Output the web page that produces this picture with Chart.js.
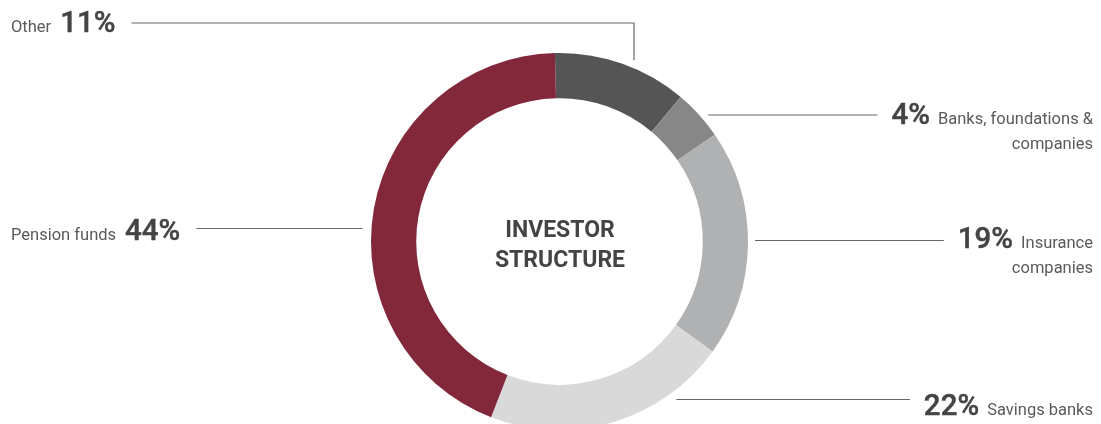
<!DOCTYPE html>
<html>
<head>
<meta charset="utf-8">
<script src="https://cdn.jsdelivr.net/npm/chart.js@4/dist/chart.umd.min.js"></script>
<style>
    html, body { margin: 0; padding: 0; background: #ffffff; overflow: hidden; }
    #wrap { position: relative; width: 1101px; height: 440px; }
</style>
</head>
<body>
<div id="wrap"><canvas id="investorChart"></canvas></div>
<script>
const categories = ["Other", "Banks, foundations &\ncompanies", "Insurance\ncompanies", "Savings banks", "Pension funds"];
// printed (rounded) shares, as in the callouts
const shareLabels = [11, 4, 19, 22, 44];
// slice sizes as measured off the ring
const sliceValues = [11.5, 4.3, 19.5, 21.0, 43.7];
const sliceColors = ["#555555", "#878787", "#b0b1b3", "#d9d9d9", "#82283a"];
const titleLines = ["INVESTOR", "STRUCTURE"];

// where each callout sits (annotation layout, not data)
const callouts = [
    { side: "left",  lineY: 23,    textDy: 9,  gap: 8,  elbowX: 634 },
    { side: "right", lineY: 115,   textDy: 9,  gap: 9 },
    { side: "right", lineY: 240.5, textDy: 7,  gap: 7 },
    { side: "right", lineY: 399.5, textDy: 15, gap: 14 },
    { side: "left",  lineY: 228.5, textDy: 11.5, gap: 9 }
];

const PCT_FONT = "500 29.5px Roboto";
const LABEL_FONT = "400 16.5px Roboto";
const TITLE_FONT = "bold 23px Roboto";
const TEXT_LEFT = 11;
const TEXT_RIGHT = 1093;

function drawPct(ctx, text, x, y) {
    ctx.font = PCT_FONT;
    ctx.fillStyle = "#444444";
    ctx.strokeStyle = "#444444";
    ctx.lineWidth = 0.45;
    ctx.fillText(text, x, y);
    ctx.strokeText(text, x, y);
}

const calloutPlugin = {
    id: "callouts",
    afterDraw(chart) {
        const ctx = chart.ctx;
        const arc = chart.getDatasetMeta(0).data[0];
        const cx = arc.x, cy = arc.y, R = arc.outerRadius;

        ctx.save();

        // centre title
        ctx.fillStyle = "#444444";
        ctx.font = TITLE_FONT;
        ctx.textAlign = "center";
        ctx.textBaseline = "alphabetic";
        ctx.fillText(titleLines[0], cx + 0.5, cy - 4.5);
        ctx.fillText(titleLines[1], cx + 0.5, cy + 25.5);

        ctx.textAlign = "left";

        categories.forEach((cat, i) => {
            const c = callouts[i];
            const lines = cat.split("\n");
            const pct = shareLabels[i] + "%";
            const base = c.textDy + c.lineY;

            ctx.font = PCT_FONT;
            const wp = ctx.measureText(pct).width;
            ctx.font = LABEL_FONT;
            const wl = ctx.measureText(lines[0]).width;

            const dy = c.lineY - cy;
            const ringDx = Math.sqrt(Math.max(R * R - dy * dy, 0));
            let from, to, elbow = null;

            if (c.side === "right") {
                const x0 = TEXT_RIGHT - (wp + 8 + wl);
                drawPct(ctx, pct, x0, base);
                ctx.fillStyle = "#5a5a5a";
                ctx.font = LABEL_FONT;
                ctx.fillText(lines[0], x0 + wp + 8, base);
                ctx.textAlign = "right";
                for (let k = 1; k < lines.length; k++) {
                    ctx.fillText(lines[k], TEXT_RIGHT, base + 25 * k);
                }
                ctx.textAlign = "left";
                from = [cx + ringDx + c.gap, c.lineY];
                to = [x0 - 14, c.lineY];
            } else {
                ctx.fillStyle = "#5a5a5a";
                ctx.font = LABEL_FONT;
                ctx.fillText(lines[0], TEXT_LEFT, base);
                const xp = TEXT_LEFT + wl + 9;
                drawPct(ctx, pct, xp, base);
                from = [xp + wp + 16, c.lineY];
                if (c.elbowX !== undefined) {
                    const ex = c.elbowX;
                    const ringY = cy - Math.sqrt(Math.max(R * R - (ex - cx) * (ex - cx), 0));
                    elbow = [ex, c.lineY];
                    to = [ex, ringY - c.gap];
                } else {
                    to = [cx - ringDx - c.gap, c.lineY];
                }
            }

            ctx.strokeStyle = "#666666";
            ctx.lineWidth = 1.2;
            ctx.beginPath();
            ctx.moveTo(from[0], from[1]);
            if (elbow) ctx.lineTo(elbow[0], elbow[1]);
            ctx.lineTo(to[0], to[1]);
            ctx.stroke();
        });

        ctx.restore();
    }
};

new Chart(document.getElementById("investorChart"), {
    type: "doughnut",
    data: {
        labels: categories,
        datasets: [{
            data: sliceValues,
            backgroundColor: sliceColors,
            borderWidth: 0,
            hoverOffset: 0
        }]
    },
    options: {
        responsive: true,
        maintainAspectRatio: false,
        animation: false,
        rotation: -1.4,
        cutout: "76%",
        layout: { padding: { top: 53, bottom: 10, left: 18, right: 0 } },
        plugins: {
            legend: { display: false },
            tooltip: { enabled: false }
        }
    },
    plugins: [calloutPlugin]
});
</script>
</body>
</html>
